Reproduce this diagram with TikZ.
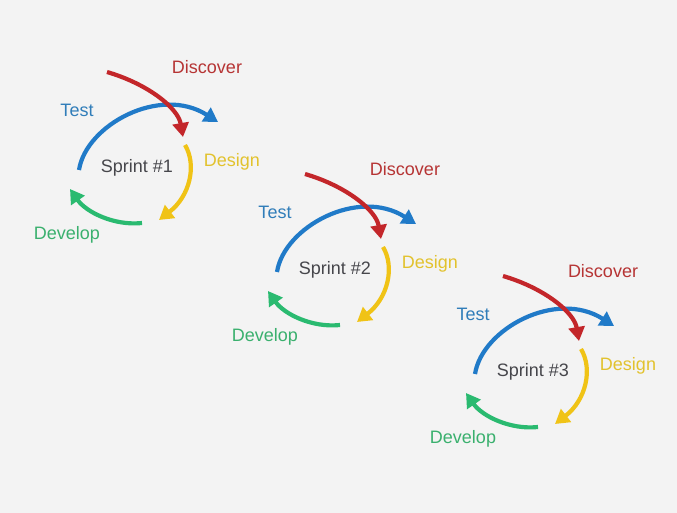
\documentclass[tikz,border=0pt]{standalone}
\usepackage{fontspec}
\setmainfont{Liberation Sans}
\usetikzlibrary{arrows.meta}
\definecolor{bg}{RGB}{243,243,243}
\definecolor{cred}{RGB}{195,38,42}
\definecolor{cblue}{RGB}{32,122,200}
\definecolor{cyel}{RGB}{240,195,22}
\definecolor{cgreen}{RGB}{42,186,112}
\definecolor{tred}{RGB}{182,52,52}
\definecolor{tblue}{RGB}{48,125,185}
\definecolor{tyel}{RGB}{226,194,45}
\definecolor{tgreen}{RGB}{58,176,110}
\definecolor{tgray}{RGB}{70,70,75}
\tikzset{
  cyc/.style={line width=4.2pt, -{Triangle[length=14pt,width=16pt]}},
  lbl/.style={inner sep=0pt, font=\fontsize{18}{21}\selectfont}
}
\newcommand\sprintcycle[3]{%
\begin{scope}[shift={(#1,#2)}, name prefix=s#3-]
  \node[lbl, text=tred] (disc) at (207,67) {Discover};
  \node[lbl, text=tblue] (test) at (77,110) {Test};
  \node[lbl, text=tgray] (sprint) at (137,168) {Sprint \##3};
  \node[lbl, text=tyel] (design) at (232,162) {Design};
  \node[lbl, text=tgreen] (develop) at (67,235) {Develop};
  \coordinate (r0) at (107,72);  \coordinate (r1) at (183,137);
  \coordinate (b0) at (79,170);  \coordinate (b1) at (218,122);
  \coordinate (y0) at (185,145); \coordinate (y1) at (159,220);
  \coordinate (g0) at (142,223); \coordinate (g1) at (70,189);
  \draw[cyc, cblue] (b0) .. controls (86,125) and (160,85) .. (b1);
  \draw[cyc, cred] (r0) .. controls (148,84) and (178,108) .. (r1);
  \draw[cyc, cyel] (y0) .. controls (197,165) and (190,196) .. (y1);
  \draw[cyc, cgreen] (g0) .. controls (114,226) and (86,212) .. (g1);
\end{scope}}
\begin{document}
\begin{tikzpicture}[x=1pt,y=-1pt]
  \fill[bg] (0,0) rectangle (677,513);
  \useasboundingbox (0,0) rectangle (677,513);
  \sprintcycle{0}{0}{1}
  \sprintcycle{198}{102}{2}
  \sprintcycle{396}{204}{3}
\end{tikzpicture}
\end{document}
